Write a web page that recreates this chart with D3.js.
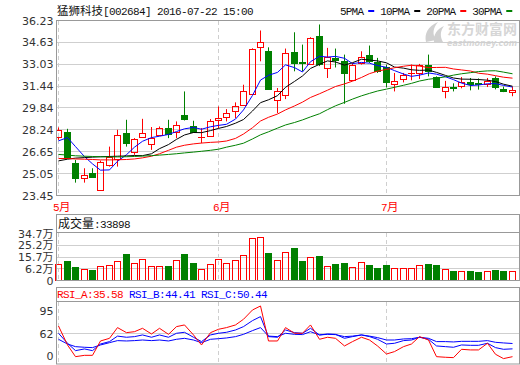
<!DOCTYPE html>
<html>
<head>
<meta charset="utf-8">
<script src="https://cdn.jsdelivr.net/npm/d3@7"></script>
<style>
  body { margin: 0; background: #fff; }
  svg { display: block; }
</style>
</head>
<body>
<svg width="520" height="365"></svg>
<script>
// trading days shown (2016-05-05 .. 2016-07-22)
const dates = [
  "2016-05-05", "2016-05-06", "2016-05-09", "2016-05-10", "2016-05-11", "2016-05-12", "2016-05-13",
  "2016-05-16", "2016-05-17", "2016-05-18", "2016-05-19", "2016-05-20", "2016-05-23", "2016-05-24",
  "2016-05-25", "2016-05-26", "2016-05-27", "2016-05-30", "2016-05-31",
  "2016-06-01", "2016-06-02", "2016-06-03", "2016-06-06", "2016-06-07", "2016-06-08", "2016-06-13",
  "2016-06-14", "2016-06-15", "2016-06-16", "2016-06-17", "2016-06-20", "2016-06-21", "2016-06-22",
  "2016-06-23", "2016-06-24", "2016-06-27", "2016-06-28", "2016-06-29", "2016-06-30",
  "2016-07-01", "2016-07-04", "2016-07-05", "2016-07-06", "2016-07-07", "2016-07-08", "2016-07-11",
  "2016-07-12", "2016-07-13", "2016-07-14", "2016-07-15", "2016-07-18", "2016-07-19", "2016-07-20",
  "2016-07-21", "2016-07-22"
];
const open = [27.71, 28.08, 25.81, 24.71, 25.08, 23.85, 25.68, 26.12, 28.01, 26.66, 27.71, 27.22, 27.88, 28.37,
  28.08, 29.35, 28.49, 27.70, 27.76, 28.98, 29.15, 29.59, 30.08, 30.88, 34.30, 34.01, 30.39, 30.76, 33.91, 33.17,
  33.06, 35.08, 32.77, 33.50, 33.30, 31.86, 33.13, 33.74, 33.18, 32.80, 31.62, 31.96, 32.38, 32.40, 33.01, 32.11,
  31.10, 31.38, 31.42, 31.76, 31.64, 31.62, 32.03, 31.25, 31.03];
const high = [28.42, 28.32, 26.05, 25.44, 25.44, 26.00, 27.02, 28.25, 28.98, 27.64, 29.05, 28.45, 28.49, 28.98,
  28.86, 31.05, 28.91, 28.37, 29.03, 29.95, 29.76, 30.25, 31.54, 34.20, 35.50, 34.27, 31.30, 34.18, 35.37, 34.47,
  35.01, 35.94, 34.23, 34.18, 33.74, 33.13, 33.98, 34.40, 33.50, 33.01, 32.40, 32.40, 33.01, 33.06, 33.74, 32.15,
  31.82, 31.64, 32.10, 32.03, 32.00, 32.03, 32.15, 31.40, 31.40];
const low = [27.51, 26.17, 24.39, 24.39, 24.78, 23.80, 25.56, 25.56, 27.02, 26.42, 27.71, 26.78, 27.83, 27.64,
  27.64, 28.93, 28.08, 27.27, 27.76, 28.37, 28.86, 29.10, 30.03, 30.85, 33.25, 31.23, 29.47, 30.49, 32.52, 32.52,
  33.06, 32.90, 32.03, 32.80, 30.15, 31.86, 33.01, 33.13, 32.40, 31.35, 31.05, 31.71, 31.86, 31.96, 32.15, 31.37,
  30.55, 31.05, 31.28, 31.13, 31.18, 31.37, 31.20, 31.00, 30.70];
const close = [28.20, 26.18, 24.71, 24.95, 24.78, 25.88, 26.29, 27.86, 27.32, 27.57, 28.01, 27.64, 28.37, 27.95,
  28.61, 29.05, 28.12, 27.73, 28.86, 29.08, 29.47, 30.00, 31.10, 34.16, 34.67, 31.23, 31.05, 33.86, 33.13, 33.10,
  34.96, 33.06, 33.57, 33.35, 32.40, 33.01, 33.54, 33.25, 32.52, 31.74, 31.84, 32.28, 32.42, 32.96, 32.52, 31.37,
  31.35, 31.33, 31.71, 31.62, 31.57, 31.84, 31.35, 31.10, 31.12];
// volume, 万
const volume = [11.8, 14.2, 10.1, 8.4, 7.7, 10.6, 11.3, 14.2, 19.4, 12.5, 15.7, 10.6, 10.6, 10.6, 15.0, 19.4,
  12.8, 8.4, 12.1, 15.7, 12.5, 15.0, 18.6, 30.8, 31.6, 20.3, 15.0, 20.6, 24.0, 14.5, 17.2, 17.9, 10.6, 12.1,
  12.8, 9.9, 13.5, 11.3, 9.1, 11.3, 8.9, 8.9, 8.9, 11.3, 12.1, 11.3, 8.4, 6.9, 6.9, 6.9, 6.2, 6.9, 7.7, 6.9, 6.9];

const ma5 = [27.44, 27.68, 27.02, 26.29, 25.76, 25.30, 25.32, 25.95, 26.43, 26.98, 27.41, 27.68, 27.78, 27.91,
  28.12, 28.32, 28.42, 28.29, 28.47, 28.57, 28.65, 29.03, 29.70, 30.76, 31.88, 32.23, 32.44, 32.99, 32.79, 32.47,
  33.22, 33.62, 33.56, 33.61, 33.47, 33.08, 33.17, 33.11, 32.94, 32.81, 32.57, 32.32, 32.15, 32.24, 32.40, 32.31,
  32.12, 31.91, 31.66, 31.48, 31.52, 31.61, 31.62, 31.49, 31.37];
const ma10 = [25.98, 26.10, 26.18, 26.22, 26.25, 26.28, 26.30, 26.32, 26.34, 26.37, 26.36, 26.50, 26.87, 27.17,
  27.55, 27.87, 28.05, 28.04, 28.19, 28.35, 28.49, 28.73, 29.00, 29.62, 30.23, 30.44, 30.74, 31.35, 31.78, 32.18,
  32.73, 33.03, 33.28, 33.20, 32.97, 33.15, 33.40, 33.34, 33.28, 33.14, 32.83, 32.75, 32.63, 32.59, 32.61, 32.44,
  32.22, 32.03, 31.95, 31.94, 31.92, 31.87, 31.77, 31.58, 31.43];
const ma20 = [26.15, 26.15, 26.12, 26.10, 26.08, 26.05, 26.05, 26.06, 26.08, 26.12, 26.20, 26.32, 26.50, 26.75,
  26.98, 27.12, 27.22, 27.28, 27.33, 27.36, 27.43, 27.62, 27.94, 28.40, 28.89, 29.16, 29.40, 29.70, 29.99, 30.27,
  30.61, 30.88, 31.14, 31.41, 31.60, 31.80, 32.07, 32.35, 32.53, 32.66, 32.78, 32.89, 32.96, 32.90, 32.79, 32.80,
  32.81, 32.69, 32.62, 32.54, 32.38, 32.31, 32.20, 32.09, 32.02];
const ma30 = [26.45, 26.40, 26.35, 26.32, 26.30, 26.28, 26.27, 26.27, 26.28, 26.30, 26.33, 26.36, 26.40, 26.45,
  26.50, 26.56, 26.62, 26.68, 26.75, 26.83, 26.98, 27.12, 27.27, 27.58, 27.88, 28.10, 28.37, 28.60, 28.78, 28.97,
  29.19, 29.42, 29.72, 30.00, 30.25, 30.49, 30.73, 30.91, 31.08, 31.22, 31.35, 31.50, 31.64, 31.81, 31.94, 32.01,
  32.12, 32.24, 32.34, 32.42, 32.50, 32.55, 32.56, 32.46, 32.34];

const rsiA = [70.2, 48.8, 35.6, 37.1, 37.1, 53.3, 56.3, 68.4, 62.7, 63.8, 67.6, 61.2, 67.6, 60.8, 69.5, 71.4,
  60.1, 48.8, 62.7, 66.5, 68.4, 71.4, 77.8, 88.3, 92.8, 53.3, 53.3, 68.4, 62.0, 62.0, 71.4, 55.2, 57.5, 56.3,
  47.7, 52.6, 57.5, 54.4, 47.7, 38.6, 41.3, 46.9, 49.9, 58.2, 54.4, 35.6, 34.9, 34.5, 43.9, 43.2, 43.2, 50.7,
  38.3, 33.4, 35.58];
const rsiB = [62.0, 50.7, 42.4, 44.3, 42.4, 49.9, 52.6, 58.8, 57.5, 58.2, 60.1, 57.5, 60.1, 57.5, 62.0, 63.1,
  57.5, 52.6, 60.1, 62.0, 63.1, 65.7, 69.5, 76.3, 80.8, 58.2, 57.5, 65.7, 62.7, 62.0, 67.6, 60.1, 61.2, 60.8,
  56.3, 58.2, 60.1, 58.2, 55.2, 49.9, 50.7, 53.7, 54.4, 57.5, 55.2, 47.7, 46.9, 46.2, 48.8, 48.4, 48.4, 50.7,
  45.8, 43.9, 44.41];
const rsiC = [55.2, 49.9, 46.9, 46.2, 45.8, 48.8, 51.4, 53.7, 53.3, 53.7, 54.4, 53.7, 54.4, 53.3, 55.2, 56.3,
  54.4, 51.4, 55.2, 55.9, 56.7, 58.2, 60.8, 65.0, 68.4, 58.8, 58.2, 62.0, 60.8, 60.5, 63.8, 60.1, 60.8, 60.5,
  58.2, 58.8, 60.1, 58.8, 57.1, 54.4, 54.4, 55.6, 55.9, 57.5, 56.3, 52.6, 52.6, 52.2, 52.9, 52.9, 52.9, 53.7,
  51.8, 51.1, 50.44];

const priceTicks = [23.45, 25.05, 26.65, 28.24, 29.84, 31.44, 33.03, 34.63, 36.23];
const volTickLabels = ["0", "6.2万", "15.7万", "25.2万", "34.7万"];
const rsiTickLabels = ["95", "62", "0"];
const maNames = ["5PMA", "10PMA", "20PMA", "30PMA"];
const title = "猛狮科技[002684] 2016-07-22 15:00";
const lastVolume = "33898";

const RED = "#ff0000", GREEN = "#008000", BLUE = "#0000ff";
const maColors = [BLUE, "#000000", RED, GREEN];
const FRAME = "#999", GRID = "#cfcfcf";
const L = 56.5, R = 519.5;

const svg = d3.select("svg");

// chinese text in CJK font, latin in a narrow monospace (like SimSun half-width)
function mixedText(sel, str, cjkSize) {
  str.match(/[\u3000-\u9fff]+|[^\u3000-\u9fff]+/g).forEach((run) => {
    const cjk = /[\u3000-\u9fff]/.test(run);
    sel.append("tspan").text(run)
      .attr("font-family", cjk ? "Noto Sans CJK SC" : "Liberation Mono")
      .attr("font-size", cjk ? cjkSize : 11)
      .attr("letter-spacing", cjk ? null : "-0.6px");
  });
}

const x = d3.scalePoint().domain(dates).range([58.3, 511.9]);
const col = (d) => Math.round(x(d));
const yPrice = d3.scaleLinear().domain([23.45, 36.23]).range([195.5, 20.5]);
const yVol = d3.scaleLinear().domain([0, 34.7]).range([280.5, 233]);
const volLabelY = d3.scalePoint().domain(volTickLabels).range([280.5, 233.5]);
const yRsi = d3.scaleLinear().domain([0, 100]).range([388.2, 299.6]);
const rsiLabelY = d3.scalePoint().domain(rsiTickLabels).range([311, 356]);

const candles = dates.map((d, i) => ({
  date: d, o: open[i], h: high[i], l: low[i], c: close[i], v: volume[i], up: close[i] >= open[i]
}));
const monthStarts = dates.filter((d, i) => i === 0 || d.slice(5, 7) !== dates[i - 1].slice(5, 7));

const defs = svg.append("defs");
defs.append("clipPath").attr("id", "clipMain")
  .append("rect").attr("x", L).attr("y", 20.5).attr("width", R - L).attr("height", 175);
defs.append("clipPath").attr("id", "clipRsi")
  .append("rect").attr("x", L).attr("y", 302).attr("width", R - L).attr("height", 62);

// watermark
const wm = svg.append("g").attr("fill", "#d6d6d6");
wm.append("path")
  .attr("d", "M426,42 C424,34 428,26 438,22 C433,28 432,34 436,40 Z M434,42 C433,35 437,29 444,26 C440,31 440,37 443,42 Z")
  .attr("fill", "#d0d0d0");
wm.append("text").attr("x", 447).attr("y", 34)
  .attr("font-family", "Noto Sans CJK SC").attr("font-weight", "bold").attr("font-size", 14)
  .text("东方财富网");
wm.append("text").attr("x", 447).attr("y", 46)
  .attr("font-family", "DejaVu Sans").attr("font-weight", "bold").attr("font-style", "italic")
  .attr("font-size", 8).attr("textLength", 70).text("eastmoney.com");

// title + legend
mixedText(svg.append("text").attr("x", 57).attr("y", 15).attr("fill", "#111"), title, 11.5);
let lx = 340;
maNames.forEach((name, i) => {
  const t = svg.append("text").attr("x", lx).attr("y", 14.5)
    .attr("font-family", "Liberation Mono").attr("font-size", 11)
    .attr("letter-spacing", "-0.8px").attr("fill", "#111").text(name);
  const w = t.node().getComputedTextLength();
  svg.append("rect").attr("x", lx + w + 5).attr("y", 10).attr("width", 6).attr("height", 2)
    .attr("fill", maColors[i]);
  lx += w + 5 + 6 + 6;
});

// ---------- price panel ----------
const main = svg.append("g");
main.selectAll(".grid").data(priceTicks).join("line")
  .attr("x1", L).attr("x2", R)
  .attr("y1", (d) => Math.floor(yPrice(d)) + 0.5).attr("y2", (d) => Math.floor(yPrice(d)) + 0.5)
  .attr("stroke", GRID);

function monthLines(g, y1, y2) {
  g.selectAll(".mline").data(monthStarts).join("line")
    .attr("x1", (d) => col(d) + 0.5).attr("x2", (d) => col(d) + 0.5)
    .attr("y1", y1).attr("y2", y2)
    .attr("stroke", GRID).attr("stroke-dasharray", "4,3");
}
monthLines(main, 21, 195);

const cg = main.append("g").attr("clip-path", "url(#clipMain)");
candles.forEach((d) => {
  const c = col(d.date);
  const yt = Math.round(yPrice(Math.max(d.o, d.c)));
  const yb = Math.round(yPrice(Math.min(d.o, d.c)));
  const color = d.up ? RED : GREEN;
  if (d.up) {
    cg.append("line").attr("x1", c + 0.5).attr("x2", c + 0.5)
      .attr("y1", yPrice(d.h)).attr("y2", yt).attr("stroke", color);
    cg.append("line").attr("x1", c + 0.5).attr("x2", c + 0.5)
      .attr("y1", yb).attr("y2", yPrice(d.l)).attr("stroke", color);
    if (yb - yt < 1) {
      cg.append("line").attr("x1", c - 3).attr("x2", c + 4)
        .attr("y1", yt + 0.5).attr("y2", yt + 0.5).attr("stroke", color);
    } else {
      cg.append("rect").attr("x", c - 2.5).attr("y", yt + 0.5)
        .attr("width", 6).attr("height", yb - yt)
        .attr("fill", "none").attr("stroke", color);
    }
  } else {
    cg.append("line").attr("x1", c + 0.5).attr("x2", c + 0.5)
      .attr("y1", yPrice(d.h)).attr("y2", yPrice(d.l)).attr("stroke", color);
    cg.append("rect").attr("x", c - 3).attr("y", yt)
      .attr("width", 7).attr("height", Math.max(1, yb - yt + 1))
      .attr("fill", color);
  }
});

const maLine = d3.line().x((v, i) => col(dates[i]) + 0.5).y((v) => yPrice(v));
[ma5, ma10, ma20, ma30].forEach((series, i) => {
  cg.append("path").attr("d", maLine(series))
    .attr("fill", "none").attr("stroke", maColors[i]).attr("stroke-width", 1);
});

main.append("rect").attr("x", L).attr("y", 20.5).attr("width", R - L).attr("height", 175)
  .attr("fill", "none").attr("stroke", FRAME);

const priceAxis = main.append("g").attr("transform", `translate(${L},0)`)
  .call(d3.axisLeft(yPrice).tickValues(priceTicks).tickFormat(d3.format(".2f")).tickSize(0).tickPadding(3));
priceAxis.select(".domain").remove();
priceAxis.selectAll("text").attr("font-family", "DejaVu Sans").attr("font-size", 11).attr("fill", "#333");

// month labels
monthStarts.forEach((d) => {
  mixedText(svg.append("text").attr("x", col(d) - 5).attr("y", 211).attr("fill", RED),
    +d.slice(5, 7) + "月", 11.5);
});

// ---------- volume panel ----------
const vg = svg.append("g");
vg.selectAll(".vgrid").data(volTickLabels.slice(1, 4)).join("line")
  .attr("x1", L).attr("x2", R)
  .attr("y1", (d) => Math.floor(volLabelY(d)) + 0.5).attr("y2", (d) => Math.floor(volLabelY(d)) + 0.5)
  .attr("stroke", GRID);
monthLines(vg, 233, 280);

vg.selectAll(".vup").data(candles.filter((d) => d.up)).join("rect")
  .attr("x", (d) => col(d.date) - 2.5).attr("y", (d) => Math.round(yVol(d.v)) + 0.5)
  .attr("width", 6).attr("height", (d) => 280 - Math.round(yVol(d.v)))
  .attr("fill", "none").attr("stroke", RED);
vg.selectAll(".vdown").data(candles.filter((d) => !d.up)).join("rect")
  .attr("x", (d) => col(d.date) - 3).attr("y", (d) => Math.round(yVol(d.v)))
  .attr("width", 7).attr("height", (d) => 281 - Math.round(yVol(d.v)))
  .attr("fill", GREEN);

vg.append("rect").attr("x", L).attr("y", 214.5).attr("width", R - L).attr("height", 66)
  .attr("fill", "none").attr("stroke", FRAME);
vg.append("line").attr("x1", L).attr("x2", R).attr("y1", 232.5).attr("y2", 232.5).attr("stroke", FRAME);
mixedText(vg.append("text").attr("x", 58).attr("y", 228).attr("fill", "#111"), "成交量:" + lastVolume, 12);

const volAxis = vg.append("g").attr("transform", `translate(${L},0)`)
  .call(d3.axisLeft(volLabelY).tickSize(0).tickPadding(3));
volAxis.select(".domain").remove();
volAxis.selectAll("text").attr("font-family", "DejaVu Sans, Noto Sans CJK SC").attr("font-size", 11).attr("fill", "#333");

// ---------- RSI panel ----------
const rg = svg.append("g");
rg.append("line").attr("x1", L).attr("x2", R)
  .attr("y1", Math.floor(rsiLabelY("62")) + 0.5).attr("y2", Math.floor(rsiLabelY("62")) + 0.5)
  .attr("stroke", GRID);
monthLines(rg, 302, 364);

const rsiLine = d3.line().x((v, i) => col(dates[i]) + 0.5).y((v) => yRsi(v));
const rc = rg.append("g").attr("clip-path", "url(#clipRsi)");
[[rsiC, BLUE], [rsiB, BLUE], [rsiA, RED]].forEach(([series, color]) => {
  rc.append("path").attr("d", rsiLine(series))
    .attr("fill", "none").attr("stroke", color).attr("stroke-width", 1);
});

rg.append("rect").attr("x", L).attr("y", 287.5).attr("width", R - L).attr("height", 76.5)
  .attr("fill", "none").attr("stroke", FRAME);
rg.append("line").attr("x1", L).attr("x2", R).attr("y1", 301.5).attr("y2", 301.5).attr("stroke", FRAME);

const rsiTitle = rg.append("text").attr("x", 57).attr("y", 298)
  .attr("font-family", "Liberation Mono").attr("font-size", 11).attr("letter-spacing", "-0.6px");
[["RSI_A", rsiA, RED], ["RSI_B", rsiB, BLUE], ["RSI_C", rsiC, BLUE]].forEach(([name, s, color], i) => {
  rsiTitle.append("tspan").attr("fill", color)
    .text((i ? " " : "") + name + ":" + s[s.length - 1].toFixed(2));
});

const rsiAxis = rg.append("g").attr("transform", `translate(${L},0)`)
  .call(d3.axisLeft(rsiLabelY).tickSize(0).tickPadding(3));
rsiAxis.select(".domain").remove();
rsiAxis.selectAll("text").attr("font-family", "DejaVu Sans").attr("font-size", 11).attr("fill", "#333");
</script>
</body>
</html>
